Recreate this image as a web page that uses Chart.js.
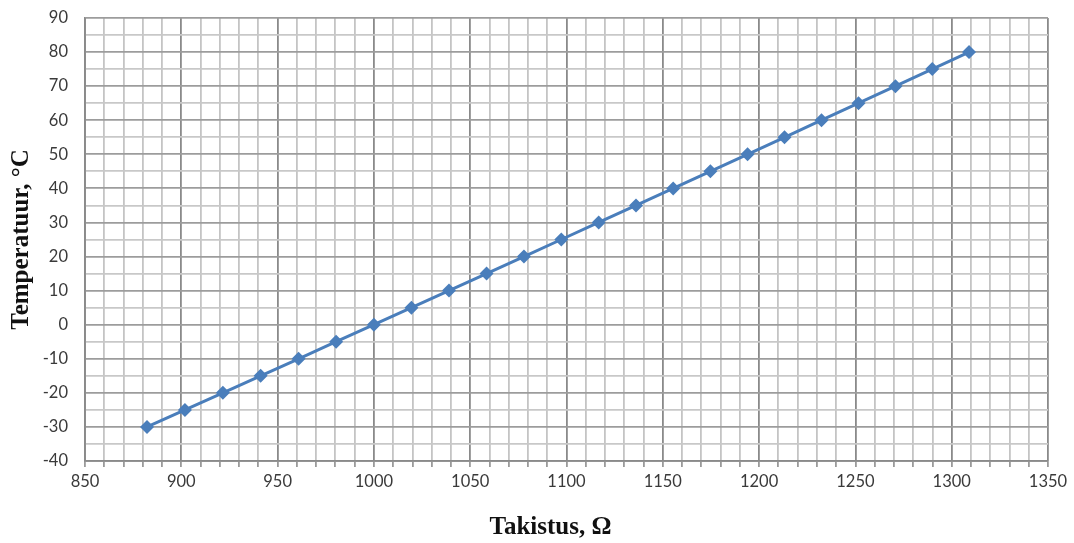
<!DOCTYPE html>
<html>
<head>
<meta charset="utf-8">
<title>Temperatuur vs takistus</title>
<script src="https://cdn.jsdelivr.net/npm/chart.js@4/dist/chart.umd.min.js"></script>
<style>
  html, body { margin: 0; padding: 0; background: #ffffff; }
  #wrap { width: 1074px; height: 543px; position: relative; }
</style>
</head>
<body>
<div id="wrap"><canvas id="c" width="1074" height="543"></canvas></div>
<script>
// Resistance (Ω) at each temperature (°C)
const resistance = [882.2, 901.9, 921.6, 941.2, 960.9, 980.4, 1000.0, 1019.5, 1039.0, 1058.5,
                    1077.9, 1097.3, 1116.7, 1136.1, 1155.4, 1174.7, 1194.0, 1213.2, 1232.4,
                    1251.6, 1270.8, 1289.9, 1309.0];
const temperature = [-30, -25, -20, -15, -10, -5, 0, 5, 10, 15, 20, 25, 30, 35, 40, 45, 50,
                     55, 60, 65, 70, 75, 80];

// Labelled axis values
const xTickLabels = [850, 900, 950, 1000, 1050, 1100, 1150, 1200, 1250, 1300, 1350];
const yTickLabels = [-40, -30, -20, -10, 0, 10, 20, 30, 40, 50, 60, 70, 80, 90];

const xTitle = 'Takistus, Ω';
const yTitle = 'Temperatuur, °C';

const points = resistance.map((r, i) => ({ x: r, y: temperature[i] }));

const tickFont = { family: 'Lato, "Open Sans", sans-serif', size: 16.5 };
const titleFont = { family: '"Liberation Serif", "Times New Roman", serif', size: 25, weight: 'bold' };

// Horizontal axis title, set a little left of the plot centre
const xTitlePlugin = {
  id: 'xTitle',
  afterDraw(chart) {
    const ctx = chart.ctx;
    const area = chart.chartArea;
    ctx.save();
    ctx.font = `bold ${titleFont.size}px ${titleFont.family}`;
    ctx.fillStyle = '#111111';
    ctx.textAlign = 'center';
    ctx.textBaseline = 'middle';
    ctx.fillText(xTitle, (area.left + area.right) / 2 - 16, chart.height - 15);
    ctx.restore();
  }
};

new Chart(document.getElementById('c'), {
  type: 'scatter',
  data: {
    datasets: [{
      data: points,
      showLine: true,
      borderColor: '#4a7ebb',
      backgroundColor: '#4a7ebb',
      borderWidth: 3,
      pointStyle: 'rectRot',
      pointRadius: 7,
      pointHoverRadius: 7,
      pointBorderWidth: 0,
      tension: 0
    }]
  },
  plugins: [xTitlePlugin],
  options: {
    responsive: false,
    devicePixelRatio: 1,
    animation: false,
    events: [],
    layout: { padding: { top: 18, right: 26, left: 0, bottom: 0 } },
    plugins: { legend: { display: false }, tooltip: { enabled: false } },
    scales: {
      x: {
        type: 'linear',
        min: 850,
        max: 1350,
        afterFit: s => { s.height = 82; s.paddingLeft = 0; s.paddingRight = 0; },
        ticks: {
          stepSize: 10,
          autoSkip: false,
          maxRotation: 0,
          padding: 5,
          color: '#3a3a3a',
          font: tickFont,
          callback: v => xTickLabels.includes(v) ? String(v) : ''
        },
        grid: {
          drawTicks: true,
          tickLength: 6,
          tickColor: '#9a9a9a',
          lineWidth: 1.8,
          color: ctx => xTickLabels.includes(ctx.tick && ctx.tick.value) ? '#8a8a8a' : '#c4c4c4'
        },
        border: { display: true, color: '#8a8a8a', width: 1.8 },
        title: { display: false }
      },
      y: {
        type: 'linear',
        min: -40,
        max: 90,
        afterFit: s => { s.width = 85; s.paddingTop = 0; s.paddingBottom = 0; },
        ticks: {
          stepSize: 5,
          autoSkip: false,
          padding: 17,
          color: '#3a3a3a',
          font: tickFont,
          callback: v => yTickLabels.includes(v) ? String(v) : ''
        },
        grid: {
          drawTicks: false,
          lineWidth: 1.8,
          color: ctx => yTickLabels.includes(ctx.tick && ctx.tick.value) ? '#9c9c9c' : '#c8c8c8'
        },
        border: { display: true, color: '#8a8a8a', width: 1.8 },
        title: {
          display: true,
          text: yTitle,
          color: '#111111',
          font: titleFont,
          padding: { top: 7, bottom: 0 }
        }
      }
    }
  }
});
</script>
</body>
</html>
